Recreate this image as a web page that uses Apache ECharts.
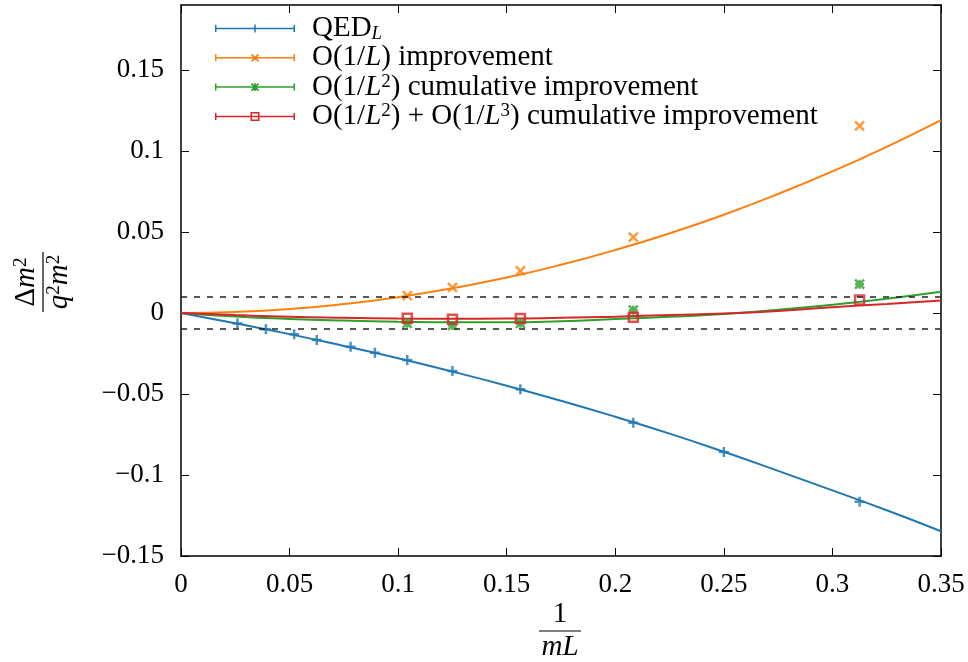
<!DOCTYPE html>
<html>
<head>
<meta charset="utf-8">
<script src="https://cdn.jsdelivr.net/npm/echarts@6/dist/echarts.min.js"></script>
<style>
  html, body { margin: 0; padding: 0; background: #fff; }
  #main { width: 968px; height: 662px; }
</style>
</head>
<body>
<div id="main"></div>
<script>
// 1/(mL) of the lattice points
const xQed = [0.026, 0.0391, 0.0521, 0.0625, 0.0781, 0.0893, 0.1042, 0.125, 0.1563, 0.2083, 0.25, 0.3125];
const qedVals = [-0.0066, -0.0101, -0.0132, -0.0167, -0.0209, -0.0246, -0.0291, -0.0359, -0.0471, -0.0677, -0.0859, -0.1165];

const xImp = [0.1042, 0.125, 0.1563, 0.2083, 0.3125];
const imp1Vals = [0.0107, 0.0157, 0.026, 0.0467, 0.1154];
const imp2Vals = [-0.0064, -0.0077, -0.0064, 0.0017, 0.0177];
const imp3Vals = [-0.0033, -0.0039, -0.0034, -0.0027, 0.008];

// fitted curves
const xFit = [0, 0.025, 0.05, 0.075, 0.1, 0.125, 0.15, 0.175, 0.2, 0.225, 0.25, 0.275, 0.3, 0.325, 0.35];
const qedFit = [0, -0.0064, -0.0131, -0.0204, -0.028, -0.0362, -0.0449, -0.0542, -0.0641, -0.0745, -0.0857, -0.0975, -0.1095, -0.1218, -0.1347];
const imp1Fit = [0, 0.0006, 0.0024, 0.0055, 0.0097, 0.0152, 0.0218, 0.0297, 0.0388, 0.0491, 0.0606, 0.0734, 0.0873, 0.1025, 0.119];
const imp2Fit = [0, -0.0022, -0.0037, -0.0047, -0.0054, -0.0058, -0.0058, -0.0051, -0.0038, -0.0024, -0.0006, 0.0019, 0.005, 0.0087, 0.013];
const imp3Fit = [0, -0.0013, -0.0024, -0.003, -0.0034, -0.0036, -0.0035, -0.003, -0.0023, -0.0013, -0.0004, 0.0012, 0.0035, 0.0055, 0.0076];

const dashedLevels = [0.01, -0.01];

const names = ['QED_L', 'O(1/L) improvement', 'O(1/L2) cumulative improvement', 'O(1/L2)+O(1/L3) cumulative improvement'];
const richNames = [
  '{t|QED}{sub|L}',
  '{t|O(1/}{i|L}{t|) improvement}',
  '{t|O(1/}{i|L}{sup|2}{t|) cumulative improvement}',
  '{t|O(1/}{i|L}{sup|2}{t|) + O(1/}{i|L}{sup|3}{t|) cumulative improvement}'
];
const colors = ['#1f77b4', '#ff7f0e', '#2ca02c', '#d62728'];

const FONT = '"Liberation Serif", "Times New Roman", serif';

function zip(xs, ys) {
  return xs.map(function (x, i) { return [x, ys[i]]; });
}

// legend sample: line with error-bar caps and the marker in the middle
const base = 'M0,4.25L80,4.25L80,5.75L0,5.75Z M0,1.5L1.5,1.5L1.5,8.5L0,8.5Z M78.5,1.5L80,1.5L80,8.5L78.5,8.5Z M40,0.5L40.01,0.5L40.01,0.51Z M40,9.49L40.01,9.49L40.01,9.5Z ';
const plusP = 'M39.25,1L40.75,1L40.75,9L39.25,9Z M36,4.25L44,4.25L44,5.75L36,5.75Z ';
const crossP = 'M35.9,2.1L37.1,0.9L44.1,7.9L42.9,9.1Z M42.9,0.9L44.1,2.1L37.1,9.1L35.9,7.9Z ';
const squareP = 'M35.5,0.5L44.5,0.5L44.5,9.5L35.5,9.5Z M37,2L37,8L43,8L43,2Z ';
const legendIcons = [
  'path://' + base + plusP,
  'path://' + base + crossP,
  'path://' + base + crossP + plusP,
  'path://' + base + squareP
];
const markers = [
  'path://M0,5L10,5M5,0L5,10',
  'path://M0,0L10,10M10,0L0,10',
  'path://M0,0L10,10M10,0L0,10M5,0L5,10M0,5L10,5',
  'path://M0,0L10,0L10,10L0,10Z'
];
const markerSizes = [10, 9, 9, 9];

const rich = {
  t: { fontFamily: FONT, fontSize: 29, lineHeight: 29, color: '#000' },
  i: { fontFamily: FONT, fontSize: 29, lineHeight: 29, fontStyle: 'italic', color: '#000' },
  sup: { fontFamily: FONT, fontSize: 19, lineHeight: 10, verticalAlign: 'top', color: '#000' },
  sub: { fontFamily: FONT, fontSize: 19, lineHeight: 10, verticalAlign: 'bottom', fontStyle: 'italic', color: '#000' }
};

const chart = echarts.init(document.getElementById('main'), null, { renderer: 'canvas' });

const fits = [qedFit, imp1Fit, imp2Fit, imp3Fit];
const pointX = [xQed, xImp, xImp, xImp];
const pointY = [qedVals, imp1Vals, imp2Vals, imp3Vals];

const series = [];
for (let k = 0; k < 4; k++) {
  series.push({
    name: names[k],
    type: 'line',
    data: zip(xFit, fits[k]),
    smooth: true,
    showSymbol: false,
    color: colors[k],
    lineStyle: { width: 2, color: colors[k] },
    z: 2
  });
}
for (let k = 0; k < 4; k++) {
  const s = {
    name: names[k] + ' pts',
    type: 'scatter',
    data: zip(pointX[k], pointY[k]),
    symbol: markers[k],
    symbolSize: markerSizes[k],
    itemStyle: { color: 'transparent', borderColor: colors[k], borderWidth: 2.5 },
    z: 3
  };
  if (k === 0) {
    s.markLine = {
      silent: true,
      symbol: ['none', 'none'],
      label: { show: false },
      lineStyle: { type: [6, 7], color: '#222', width: 1.5 },
      data: dashedLevels.map(function (v) { return { yAxis: v }; })
    };
  }
  series.push(s);
}

function yLabel(v) {
  const r = Math.round(v / 0.05);
  if (Math.abs(v - r * 0.05) > 1e-6) return '';
  if (r === 0) return '0';
  const s = String(+Math.abs(v).toFixed(2));
  return v < 0 ? '\u2212' + s : s;
}

const frame = { show: true, onZero: false, lineStyle: { color: '#000', width: 1.5 } };
const ticks = { show: true, inside: true, length: 8, lineStyle: { color: '#000', width: 1 } };

const option = {
  animation: false,
  backgroundColor: '#fff',
  grid: { left: 181, right: 27, top: 5, bottom: 106, containLabel: false },
  legend: {
    left: 215,
    top: 14,
    orient: 'vertical',
    padding: 0,
    itemGap: 0.3,
    itemWidth: 80,
    itemHeight: 10,
    selectedMode: false,
    data: names.map(function (n, k) {
      return { name: n, icon: legendIcons[k], itemStyle: { color: colors[k], borderWidth: 0 } };
    }),
    formatter: function (n) { return richNames[names.indexOf(n)]; },
    textStyle: { padding: [0, 0, 0, 12], fontFamily: FONT, fontSize: 29, lineHeight: 29, rich: rich }
  },
  xAxis: [{
    type: 'value', min: 0, max: 0.35, interval: 0.05, position: 'bottom',
    axisLine: frame, axisTick: ticks, splitLine: { show: false },
    axisLabel: {
      margin: 15, fontFamily: FONT, fontSize: 27, color: '#000',
      formatter: function (v) { return v === 0 ? '0' : String(+v.toFixed(2)); }
    }
  }, {
    type: 'value', min: 0, max: 0.35, interval: 0.05, position: 'top',
    axisLine: frame, axisTick: ticks, splitLine: { show: false }, axisLabel: { show: false }
  }],
  yAxis: [{
    type: 'value', min: -0.15, max: 0.19, interval: 0.05, position: 'left',
    axisLine: frame, axisTick: ticks, splitLine: { show: false },
    axisLabel: { margin: 17, fontFamily: FONT, fontSize: 27, color: '#000', formatter: yLabel, showMaxLabel: false }
  }, {
    type: 'value', min: -0.15, max: 0.19, interval: 0.05, position: 'right',
    axisLine: frame, axisTick: ticks, splitLine: { show: false }, axisLabel: { show: false }
  }],
  graphic: [{
    type: 'group', x: 43, y: 282, rotation: Math.PI / 2,
    children: [
      { type: 'line', shape: { x1: -30, y1: 0, x2: 30, y2: 0 }, style: { stroke: '#000', lineWidth: 1.2 } },
      { type: 'text', x: 0, y: -2, style: { text: '{t|\u0394}{i|m}{sup|2}', align: 'center', verticalAlign: 'bottom', rich: rich } },
      { type: 'text', x: 0, y: 2, style: { text: '{i|q}{sup|2}{i|m}{sup|2}', align: 'center', verticalAlign: 'top', rich: rich } }
    ]
  }, {
    type: 'group', x: 560, y: 631,
    children: [
      { type: 'line', shape: { x1: -21, y1: 0, x2: 21, y2: 0 }, style: { stroke: '#000', lineWidth: 1.2 } },
      { type: 'text', x: 0, y: -2, style: { text: '{t|1}', align: 'center', verticalAlign: 'bottom', rich: rich } },
      { type: 'text', x: 0, y: 2, style: { text: '{i|mL}', align: 'center', verticalAlign: 'top', rich: rich } }
    ]
  }],
  series: series
};

chart.setOption(option);
</script>
</body>
</html>
